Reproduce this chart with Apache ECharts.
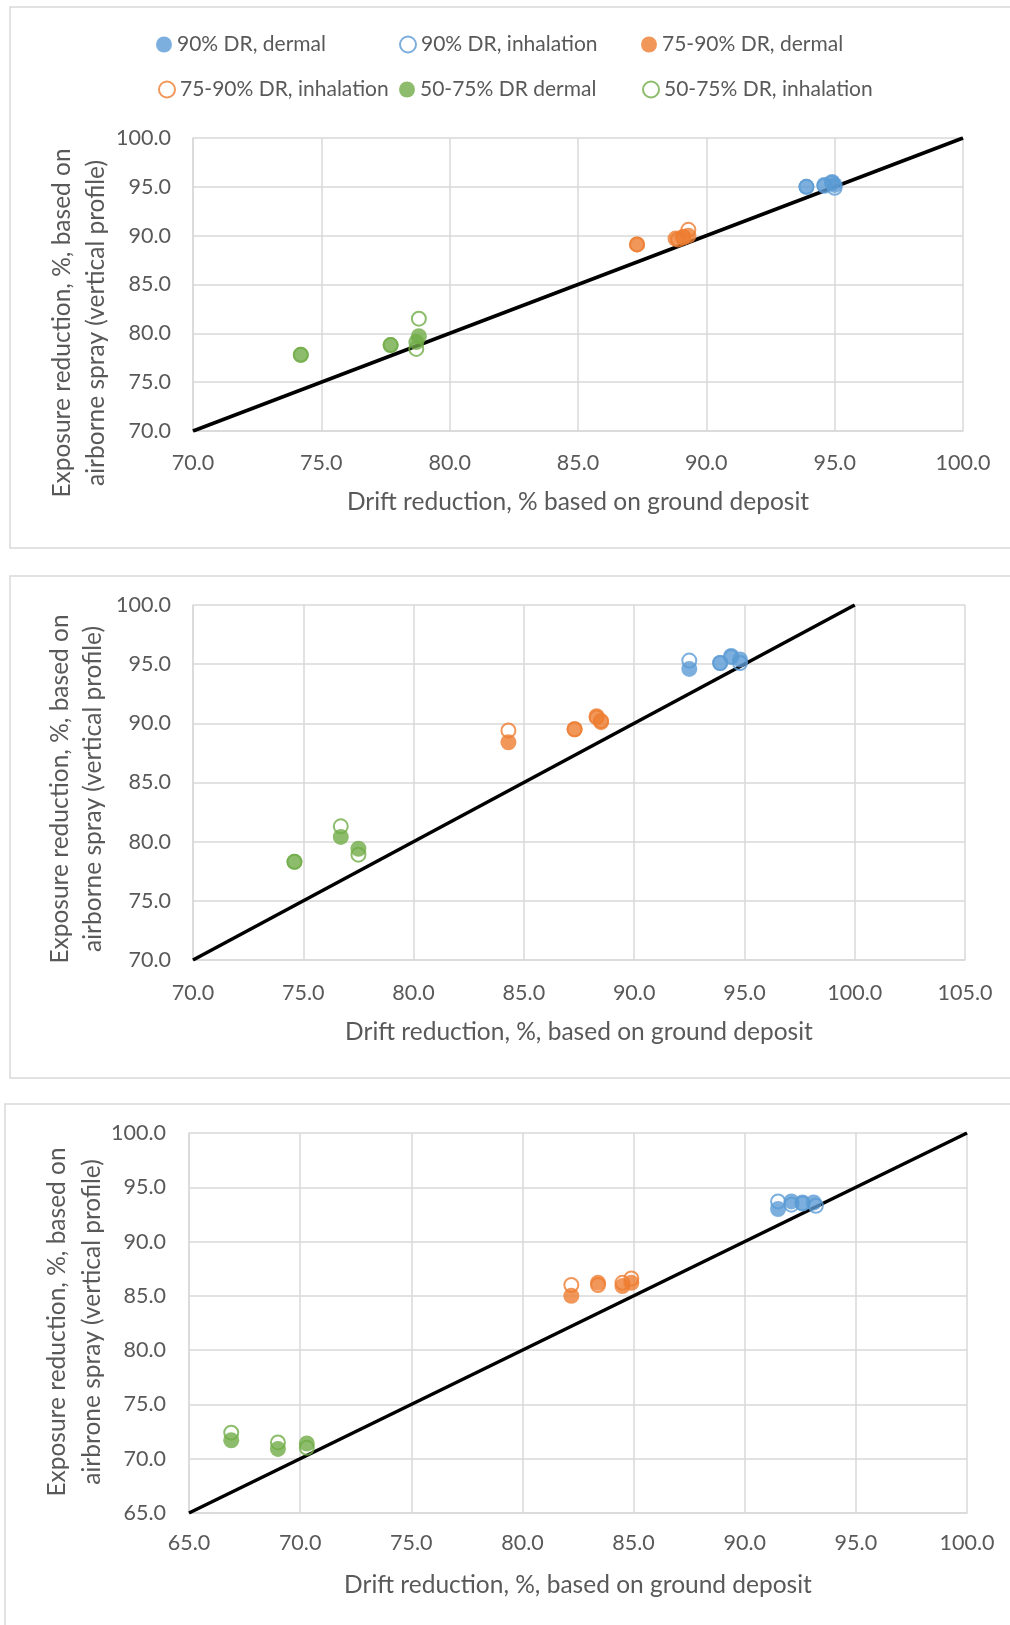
<!DOCTYPE html>
<html>
<head>
<meta charset="utf-8">
<script src="https://cdn.jsdelivr.net/npm/echarts@6/dist/echarts.min.js"></script>
<style>
  html, body { margin: 0; padding: 0; background: #fff; }
  #main { width: 1010px; height: 1625px; }
</style>
</head>
<body>
<div id="main"></div>
<script>
// series names (shared by all three panels)
const seriesNames = [
  '90% DR, dermal', '90% DR, inhalation',
  '75-90% DR, dermal', '75-90% DR, inhalation',
  '50-75% DR dermal', '50-75% DR, inhalation'
]

// panel 1 : [drift reduction, exposure reduction]
const p1Dr90Dermal = [[93.9, 95.0], [94.6, 95.2], [94.9, 95.5], [95.0, 95.2]]
const p1Dr90Inhal = [[93.9, 95.0], [94.6, 95.1], [94.9, 95.4], [95.0, 94.9]]
const p1Dr75Dermal = [[87.3, 89.1], [88.8, 89.7], [89.1, 89.9], [89.3, 90.0]]
const p1Dr75Inhal = [[87.3, 89.1], [88.9, 89.6], [89.1, 89.8], [89.3, 90.6]]
const p1Dr50Dermal = [[74.2, 77.8], [77.7, 78.8], [78.7, 79.1], [78.8, 79.7]]
const p1Dr50Inhal = [[74.2, 77.8], [77.7, 78.8], [78.7, 78.4], [78.8, 81.5]]
const p1Diagonal = [[70, 70], [100, 100]]

// panel 2
const p2Dr90Dermal = [[92.5, 94.6], [93.9, 95.1], [94.4, 95.7], [94.8, 95.4]]
const p2Dr90Inhal = [[92.5, 95.3], [93.9, 95.1], [94.4, 95.6], [94.8, 95.1]]
const p2Dr75Dermal = [[84.3, 88.4], [87.3, 89.5], [88.3, 90.6], [88.5, 90.1]]
const p2Dr75Inhal = [[84.3, 89.4], [87.3, 89.5], [88.3, 90.5], [88.5, 90.2]]
const p2Dr50Dermal = [[74.6, 78.3], [76.7, 80.4], [77.5, 79.4]]
const p2Dr50Inhal = [[74.6, 78.3], [76.7, 81.3], [77.5, 78.9]]
const p2Diagonal = [[70, 70], [100, 100]]

// panel 3
const p3Dr90Dermal = [[91.5, 93.0], [92.1, 93.7], [92.6, 93.6], [93.1, 93.6]]
const p3Dr90Inhal = [[91.5, 93.7], [92.1, 93.4], [92.6, 93.5], [93.2, 93.3]]
const p3Dr75Dermal = [[82.2, 85.0], [83.4, 86.2], [84.5, 85.9], [84.9, 86.2]]
const p3Dr75Inhal = [[82.2, 86.0], [83.4, 86.0], [84.5, 86.2], [84.9, 86.6]]
const p3Dr50Dermal = [[66.9, 71.7], [69.0, 70.9], [70.3, 71.4]]
const p3Dr50Inhal = [[66.9, 72.4], [69.0, 71.5], [70.3, 71.0]]
const p3Diagonal = [[65, 65], [100, 100]]

// axis ranges
const p1XRange = [70, 100]
const p1YRange = [70, 100]
const p2XRange = [70, 105]
const p2YRange = [70, 100]
const p3XRange = [65, 100]
const p3YRange = [65, 100]

const xTitles = [
  'Drift reduction, % based on ground deposit',
  'Drift reduction, %, based on ground deposit',
  'Drift reduction, %, based on ground deposit'
]
const yTitles = [
  ['Exposure reduction, %, based on', 'airborne spray (vertical profile)'],
  ['Exposure reduction, %, based on', 'airborne spray (vertical profile)'],
  ['Exposure reduction, %, based on', 'airbrone spray (vertical profile)']
]

const FONT = 'Lato'
const colors = ['#5B9BD5', '#5B9BD5', '#ED7D31', '#ED7D31', '#70AD47', '#70AD47']
const gridColor = '#D9D9D9'
const textColor = '#595959'

const panels = [
  { data: [p1Dr90Dermal, p1Dr90Inhal, p1Dr75Dermal, p1Dr75Inhal, p1Dr50Dermal, p1Dr50Inhal], diag: p1Diagonal, x: p1XRange, y: p1YRange,
    grid: { left: 193, top: 138, width: 770, height: 293 }, box: [10, 7, 1010, 541], xTitleY: 502, yTitle: [62, 96, 323], xMargin: 21, yMargin: 22 },
  { data: [p2Dr90Dermal, p2Dr90Inhal, p2Dr75Dermal, p2Dr75Inhal, p2Dr50Dermal, p2Dr50Inhal], diag: p2Diagonal, x: p2XRange, y: p2YRange,
    grid: { left: 193, top: 605, width: 772, height: 355 }, box: [10, 576, 1010, 502], xTitleY: 1032, yTitle: [60, 93, 789], xMargin: 22, yMargin: 22 },
  { data: [p3Dr90Dermal, p3Dr90Inhal, p3Dr75Dermal, p3Dr75Inhal, p3Dr50Dermal, p3Dr50Inhal], diag: p3Diagonal, x: p3XRange, y: p3YRange,
    grid: { left: 189, top: 1133, width: 778, height: 380 }, box: [5, 1104, 1015, 540], xTitleY: 1585, yTitle: [57, 92, 1322], xMargin: 19, yMargin: 23 }
]

const grids = []
const xAxes = []
const yAxes = []
const series = []
const graphics = []

panels.forEach((p, i) => {
  grids.push(p.grid)
  const axisCommon = {
    type: 'value',
    interval: 5,
    gridIndex: i,
    axisLine: { show: true, lineStyle: { color: gridColor, width: 1.5 } },
    axisTick: { show: false },
    splitLine: { show: true, lineStyle: { color: gridColor, width: 1.5 } },
    axisLabel: { color: textColor, fontFamily: FONT, fontSize: 21.5, formatter: v => v.toFixed(1) }
  }
  xAxes.push({ ...axisCommon, min: p.x[0], max: p.x[1], axisLabel: { ...axisCommon.axisLabel, margin: p.xMargin } })
  yAxes.push({ ...axisCommon, min: p.y[0], max: p.y[1], axisLabel: { ...axisCommon.axisLabel, margin: p.yMargin } })

  // 1:1 line
  series.push({
    type: 'line',
    xAxisIndex: i,
    yAxisIndex: i,
    data: p.diag,
    showSymbol: false,
    silent: true,
    lineStyle: { color: '#000', width: 3.5 },
    z: 1
  })

  p.data.forEach((d, k) => {
    const open = k % 2 === 1
    series.push({
      type: 'scatter',
      name: seriesNames[k],
      xAxisIndex: i,
      yAxisIndex: i,
      data: d,
      symbol: 'circle',
      symbolSize: open ? 14 : 16,
      itemStyle: open
        ? { color: 'rgba(255,255,255,0)', borderColor: colors[k], borderWidth: 2 }
        : { color: colors[k], borderWidth: 0 },
      z: 2 + k
    })
  })

  // chart frame
  graphics.push({
    type: 'rect',
    shape: { x: p.box[0], y: p.box[1], width: p.box[2], height: p.box[3] },
    style: { fill: 'none', stroke: gridColor, lineWidth: 1.5 },
    silent: true,
    z: -1
  })
  // x axis title
  graphics.push({
    type: 'text',
    x: p.grid.left + p.grid.width / 2,
    y: p.xTitleY,
    style: { text: xTitles[i], fill: textColor, font: '24.5px ' + FONT, align: 'center', verticalAlign: 'middle' }
  })
  // y axis title (two lines)
  yTitles[i].forEach((t, j) => {
    graphics.push({
      type: 'text',
      x: p.yTitle[j],
      y: p.yTitle[2],
      rotation: Math.PI / 2,
      style: { text: t, fill: textColor, font: '24.5px ' + FONT, align: 'center', verticalAlign: 'middle' }
    })
  })
})

// legend: one component per item so positions match the original layout
const legendPos = [[164, 45], [407, 45], [649, 45], [166, 90], [407, 90], [650, 90]]
const legends = seriesNames.map((n, k) => ({
  data: [n],
  left: legendPos[k][0] - 8,
  top: legendPos[k][1] - 11,
  padding: 0,
  itemWidth: 16,
  itemHeight: 16,
  icon: 'circle',
  textStyle: { color: textColor, fontFamily: FONT, fontSize: 21, padding: [0, 0, 0, 0] }
}))

const chart = echarts.init(document.getElementById('main'))
chart.setOption({
  animation: false,
  legend: legends,
  grid: grids,
  xAxis: xAxes,
  yAxis: yAxes,
  series: series,
  graphic: graphics
})
</script>
</body>
</html>
